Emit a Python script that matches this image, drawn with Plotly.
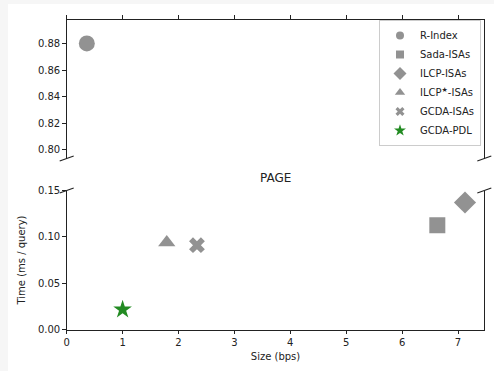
import plotly.graph_objects as go

# ---- data ----
methods = ["R-Index", "Sada-ISAs", "ILCP-ISAs", "ILCP<sup>★</sup>-ISAs", "GCDA-ISAs", "GCDA-PDL"]
sizes_bps = [0.36, 6.63, 7.125, 1.79, 2.33, 1.00]
times_ms = [0.880, 0.1126, 0.137, 0.094, 0.091, 0.0216]
symbols = ["circle", "square", "diamond", "triangle-up", "x", "star"]
colors = ["#929292", "#929292", "#929292", "#929292", "#929292", "#228B22"]
plot_sizes = [16, 16, 17, 15, 14, 14]
legend_sizes = [8, 8, 10, 9, 8, 9]

top_ticks = [0.80, 0.82, 0.84, 0.86, 0.88]
bottom_ticks = [0.00, 0.05, 0.10, 0.15]
x_ticks = [0, 1, 2, 3, 4, 5, 6, 7]

W, H = 494, 371
def px(x):
    return x / W
def py(y):
    return 1 - y / H

X0, X1 = 66.7, 484.3
TOP_Y0, TOP_Y1 = 19.5, 158.5
BOT_Y0, BOT_Y1 = 190.5, 329.5

fig = go.Figure()

for i, m in enumerate(methods):
    is_top = times_ms[i] > 0.5
    fig.add_trace(go.Scatter(
        x=[sizes_bps[i]], y=[times_ms[i]], mode="markers", name=m,
        marker=dict(symbol=symbols[i], size=plot_sizes[i], color=colors[i],
                    line=dict(width=0)),
        xaxis="x" if is_top else "x2", yaxis="y" if is_top else "y2",
        showlegend=False, hoverinfo="name+x+y"))

for i, m in enumerate(methods):
    fig.add_trace(go.Scatter(
        x=[None], y=[None], mode="markers", name=m,
        marker=dict(symbol=symbols[i], size=legend_sizes[i], color=colors[i],
                    line=dict(width=0)),
        xaxis="x2", yaxis="y2", showlegend=True))

line_col = "#222222"
font = dict(family="DejaVu Sans", size=10, color="#222222")
xr = [0, (X1 - X0) / 55.9]

common_x = dict(range=xr, showgrid=False, zeroline=False, showline=True,
                linecolor=line_col, linewidth=1, ticks="outside", ticklen=3.5,
                tickwidth=1, tickcolor=line_col, tickvals=x_ticks,
                domain=[px(X0), px(X1)], tickfont=font, automargin=False)
common_y = dict(showgrid=False, zeroline=False, showline=True, mirror=True,
                linecolor=line_col, linewidth=1, ticks="outside", ticklen=3.5,
                tickwidth=1, tickcolor=line_col, tickformat=".2f", tickfont=font,
                automargin=False)

fig.update_layout(
    template="none",
    width=W, height=H, margin=dict(l=0, r=0, t=0, b=0, pad=0), autosize=False,
    paper_bgcolor="#f6f6f6", plot_bgcolor="white",
    font=font,
    xaxis=dict(**common_x, anchor="y", side="top", showticklabels=False),
    yaxis=dict(**common_y, anchor="x", domain=[py(TOP_Y1), py(TOP_Y0)],
               range=[0.7935, 0.898], tickvals=top_ticks),
    xaxis2=dict(**common_x, anchor="y2", side="bottom",
                title=dict(text="Size (bps)", font=font, standoff=5)),
    yaxis2=dict(**common_y, anchor="x2", domain=[py(BOT_Y1), py(BOT_Y0)],
                range=[0, 0.15], tickvals=bottom_ticks,
                title=dict(text="Time (ms / query)", font=font, standoff=10)),
    legend=dict(x=px(379), y=py(20), xanchor="left", yanchor="top",
                bgcolor="white", bordercolor="#cccccc", borderwidth=1,
                font=dict(family="DejaVu Sans", size=10, color="#222222"),
                itemwidth=30),
    showlegend=True,
)

shapes = [dict(type="rect", xref="paper", yref="paper", x0=px(8), x1=1,
               y0=0, y1=py(4), fillcolor="white", line=dict(width=0), layer="below")]
for xc in (X0, X1):
    for yc in (TOP_Y1, BOT_Y0):
        shapes.append(dict(type="line", xref="paper", yref="paper",
                           x0=px(xc - 7), y0=py(yc + 2.5), x1=px(xc + 7), y1=py(yc - 2.5),
                           line=dict(color=line_col, width=1.2)))
fig.update_layout(shapes=shapes)

fig.add_annotation(text="PAGE", xref="paper", yref="paper",
                   x=(px(X0) + px(X1)) / 2, y=py(178), showarrow=False,
                   font=dict(family="DejaVu Sans", size=12, color="#222222"),
                   xanchor="center", yanchor="middle")

fig.write_html("out.html",
               config={"displayModeBar": False, "responsive": False},
               post_script="document.body.style.margin='0';document.body.style.padding='0';document.body.style.overflow='hidden';")
